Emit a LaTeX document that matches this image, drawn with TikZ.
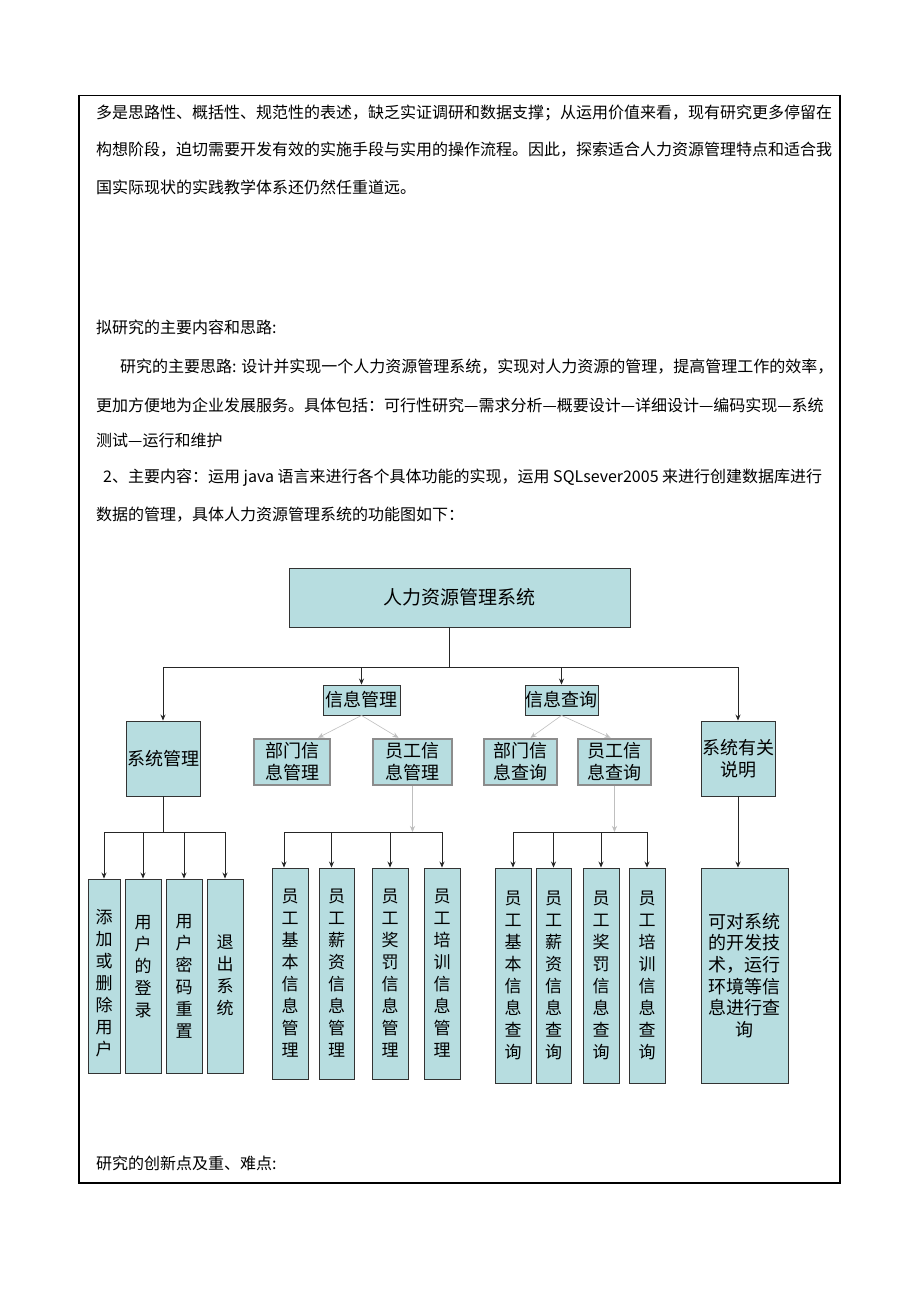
\documentclass[tikz,border=0pt]{standalone}
\usepackage{fontspec}
\setmainfont{Noto Sans CJK SC}
\usetikzlibrary{arrows.meta}
\definecolor{boxfill}{RGB}{183,221,224}
\newcommand\vtext[2]{\raisebox{#1}[\height][\depth]{\begin{tabular}{@{}c@{}}#2\end{tabular}}}
\begin{document}
\begin{tikzpicture}[x=1pt,y=-1pt,
 txt/.style={anchor=west,inner sep=0pt,font=\fontsize{16}{16}\selectfont},
 box/.style={draw=black!80,line width=0.9pt,fill=boxfill,inner sep=0pt,align=center,font=\fontsize{18}{22}\selectfont},
 gbox/.style={box,draw=black!45,line width=2.5pt},
 vbox/.style={box,font=\fontsize{17}{22}\selectfont},
 arr/.style={-{Stealth[length=6pt,width=5pt]},line width=0.8pt,black!85},
 ln/.style={line width=0.8pt,black!85},
 farr/.style={-{Stealth[length=6pt,width=5pt]},line width=0.6pt,black!25},
]
\useasboundingbox[fill=white] (0,0) rectangle (920,1302);

% frame
\draw[line width=1pt] (78,95) -- (840,95);
\draw[line width=2pt] (79,94.5) -- (79,1183);
\draw[line width=2pt] (840,94.5) -- (840,1183);
\draw[line width=2.5pt] (78,1183) -- (841,1183);

% body text
\node[txt] (l1) at (96,113) {多是思路性、概括性、规范性的表述，缺乏实证调研和数据支撑；从运用价值来看，现有研究更多停留在};
\node[txt] (l2) at (96,150) {构想阶段，迫切需要开发有效的实施手段与实用的操作流程。因此，探索适合人力资源管理特点和适合我};
\node[txt] (l3) at (96,187) {国实际现状的实践教学体系还仍然任重道远。};
\node[txt] (l4) at (96,327) {拟研究的主要内容和思路:};
\node[txt] (l5) at (120,367) {研究的主要思路: 设计并实现一个人力资源管理系统，实现对人力资源的管理，提高管理工作的效率，};
\node[txt] (l6) at (96,405) {更加方便地为企业发展服务。具体包括：可行性研究—需求分析—概要设计—详细设计—编码实现—系统};
\node[txt] (l7) at (96,440) {测试—运行和维护};
\node[txt] (l8) at (103,478) {2、主要内容：运用 java 语言来进行各个具体功能的实现，运用 SQLsever2005 来进行创建数据库进行};
\node[txt] (l9) at (96,515) {数据的管理，具体人力资源管理系统的功能图如下：};
\node[txt] (l10) at (96,1163) {研究的创新点及重、难点:};

% diagram boxes
\node[box,minimum width=341pt,minimum height=59pt,font=\fontsize{19}{22}\selectfont] (top) at (459.5,597.5) {人力资源管理系统};
\node[box,minimum width=77pt,minimum height=30pt] (im) at (361.5,700) {信息管理};
\node[box,minimum width=73pt,minimum height=30pt] (iq) at (561.5,700) {信息查询};
\node[box,minimum width=74pt,minimum height=75pt] (sysm) at (163,758.5) {系统管理};
\node[box,minimum width=74pt,minimum height=75pt] (about) at (738,758.5) {系统有关\\说明};
\node[gbox,minimum width=76pt,minimum height=46pt] (dm) at (292,762) {部门信\\息管理};
\node[gbox,minimum width=79pt,minimum height=46pt] (em) at (412.5,762) {员工信\\息管理};
\node[gbox,minimum width=73pt,minimum height=46pt] (dq) at (520.5,762) {部门信\\息查询};
\node[gbox,minimum width=73pt,minimum height=46pt] (eq) at (614.5,762) {员工信\\息查询};

% group 1
\node[vbox,minimum width=32pt,minimum height=194pt] (a1) at (104,976) {\vtext{-9pt}{添\\加\\或\\删\\除\\用\\户}};
\node[vbox,minimum width=36pt,minimum height=194pt] (a2) at (143,976) {\vtext{8pt}{用\\户\\的\\登\\录}};
\node[vbox,minimum width=36pt,minimum height=194pt] (a3) at (184,976) {\vtext{-2pt}{用\\户\\密\\码\\重\\置}};
\node[vbox,minimum width=36pt,minimum height=194pt] (a4) at (225,976) {\vtext{-1pt}{退\\出\\系\\统}};

% group 2
\node[vbox,minimum width=36pt,minimum height=211pt] (b1) at (290,973.5) {员\\工\\基\\本\\信\\息\\管\\理};
\node[vbox,minimum width=35pt,minimum height=211pt] (b2) at (336.5,973.5) {员\\工\\薪\\资\\信\\息\\管\\理};
\node[vbox,minimum width=36pt,minimum height=211pt] (b3) at (390,973.5) {员\\工\\奖\\罚\\信\\息\\管\\理};
\node[vbox,minimum width=36pt,minimum height=211pt] (b4) at (442,973.5) {员\\工\\培\\训\\信\\息\\管\\理};

% group 3
\node[vbox,minimum width=36pt,minimum height=215pt] (c1) at (513,975.5) {员\\工\\基\\本\\信\\息\\查\\询};
\node[vbox,minimum width=35pt,minimum height=215pt] (c2) at (553.5,975.5) {员\\工\\薪\\资\\信\\息\\查\\询};
\node[vbox,minimum width=36pt,minimum height=215pt] (c3) at (601,975.5) {员\\工\\奖\\罚\\信\\息\\查\\询};
\node[vbox,minimum width=36pt,minimum height=215pt] (c4) at (647,975.5) {员\\工\\培\\训\\信\\息\\查\\询};

\node[box,minimum width=87pt,minimum height=215pt,font=\fontsize{18}{21.7}\selectfont] (d) at (744.5,975.5) {可对系统\\的开发技\\术，运行\\环境等信\\息进行查\\询};

% connectors
\coordinate (h0) at (0,667);
\coordinate (h1) at (0,832);
\draw[ln] ([xshift=-10.5pt]top.south) -- ([xshift=-10.5pt]top.south |- h0);
\draw[ln] (sysm.north |- h0) -- (about.north |- h0);
\draw[arr] (sysm.north |- h0) -- (sysm.north);
\draw[arr] (im.north |- h0) -- (im.north);
\draw[arr] (iq.north |- h0) -- (iq.north);
\draw[arr] (about.north |- h0) -- (about.north);

\draw[farr] (im.south) -- ([xshift=26pt]dm.north);
\draw[farr] (im.south) -- ([xshift=-14pt]em.north);
\draw[farr] (iq.south) -- ([xshift=10pt]dq.north);
\draw[farr] (iq.south) -- ([xshift=-4pt]eq.north);

\draw[ln] (sysm.south) -- (sysm.south |- h1);
\draw[ln] (a1.north |- h1) -- (a4.north |- h1);
\foreach \n in {a1,a2,a3,a4} \draw[arr] (\n.north |- h1) -- (\n.north);

\draw[farr] (em.south) -- (em.south |- h1);
\draw[ln] ([xshift=-6pt]b1.north |- h1) -- (b4.north |- h1);
\draw[arr] ([xshift=-6pt]b1.north |- h1) -- ([xshift=-6pt]b1.north);
\draw[arr] ([xshift=-5pt]b2.north |- h1) -- ([xshift=-5pt]b2.north);
\draw[arr] (b3.north |- h1) -- (b3.north);
\draw[arr] (b4.north |- h1) -- (b4.north);

\draw[farr] (eq.south) -- (eq.south |- h1);
\draw[ln] (c1.north |- h1) -- (c4.north |- h1);
\foreach \n in {c1,c2,c3,c4} \draw[arr] (\n.north |- h1) -- (\n.north);

\draw[arr] (about.south) -- (about.south |- d.north);
\end{tikzpicture}
\end{document}
